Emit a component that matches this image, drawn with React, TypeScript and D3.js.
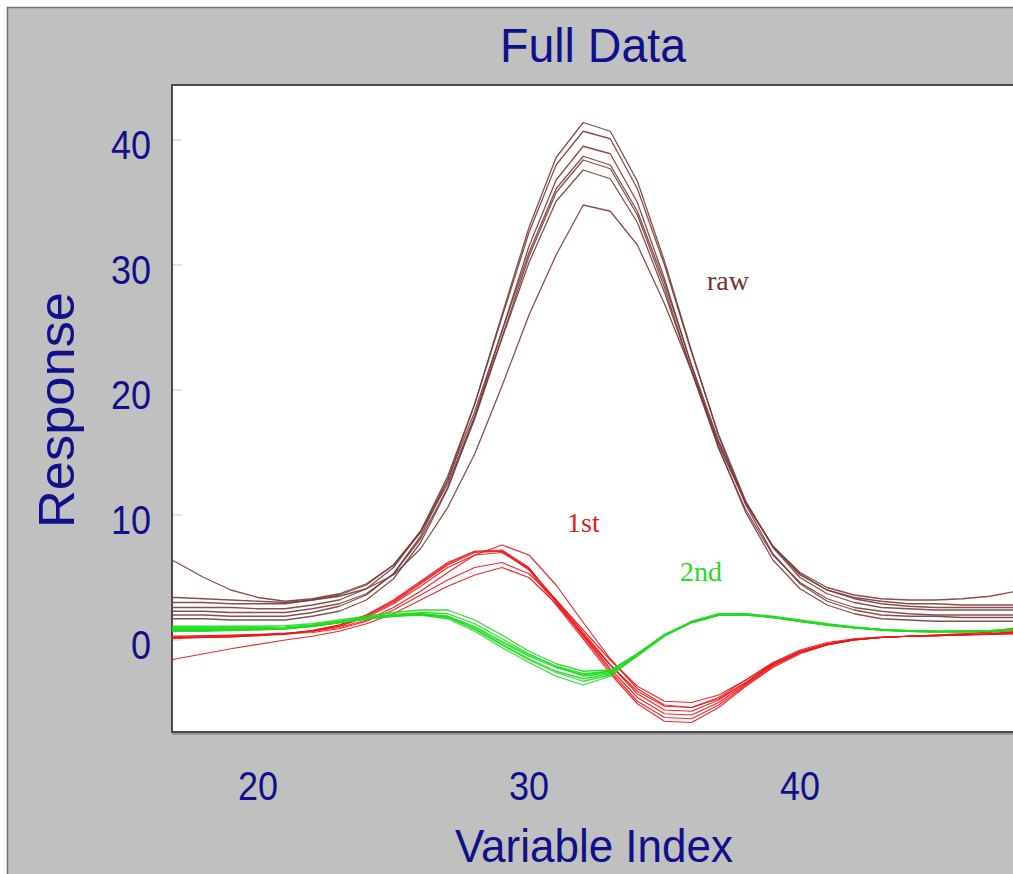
import React from "react";
import * as d3 from "d3";

// Variable indices sampled by every spectrum
const variableIndex = [
  16, 17, 18, 19, 20, 21, 22, 23, 24, 25, 26, 27, 28, 29, 30, 31, 32,
  33, 34, 35, 36, 37, 38, 39, 40, 41, 42, 43, 44, 45, 46, 47, 48,
];

// Raw spectra
const raw1 = [2.0, 2.0, 2.0, 1.9, 1.9, 1.9, 2.2, 2.7, 3.6, 5.3, 8.3, 12.8, 18.9, 26.0, 33.0, 38.6, 41.4, 40.7, 36.7, 30.3, 23.1, 16.3, 10.8, 6.9, 4.5, 3.1, 2.4, 2.0, 1.9, 1.9, 1.8, 1.8, 1.8];
const raw2 = [2.6, 2.6, 2.6, 2.6, 2.5, 2.5, 2.8, 3.2, 4.1, 5.8, 8.7, 13.1, 18.9, 25.8, 32.6, 38.0, 40.7, 40.1, 36.1, 30.0, 23.0, 16.4, 11.1, 7.4, 5.0, 3.7, 3.0, 2.6, 2.5, 2.4, 2.4, 2.4, 2.4];
const raw3 = [1.7, 1.7, 1.7, 1.6, 1.6, 1.6, 1.9, 2.3, 3.2, 4.9, 7.8, 12.1, 17.9, 24.7, 31.5, 36.8, 39.5, 38.9, 35.0, 28.9, 21.9, 15.4, 10.2, 6.4, 4.1, 2.8, 2.1, 1.7, 1.6, 1.5, 1.5, 1.5, 1.5];
const raw4 = [3.0, 3.0, 3.0, 2.9, 2.9, 2.9, 3.2, 3.6, 4.4, 6.0, 8.7, 12.8, 18.3, 24.7, 31.0, 36.1, 38.7, 38.0, 34.3, 28.6, 22.0, 15.9, 11.0, 7.5, 5.3, 4.0, 3.4, 3.1, 2.9, 2.9, 2.8, 2.8, 2.8];
const raw5 = [2.3, 2.3, 2.3, 2.2, 2.2, 2.2, 2.5, 2.9, 3.7, 5.3, 8.1, 12.2, 17.7, 24.2, 30.7, 35.8, 38.4, 37.7, 34.0, 28.2, 21.5, 15.3, 10.4, 6.8, 4.6, 3.3, 2.6, 2.3, 2.1, 2.0, 2.0, 2.0, 2.0];
const raw6 = [7.3, 6.2, 5.0, 4.0, 3.4, 3.1, 3.3, 3.7, 4.5, 6.0, 8.6, 12.5, 17.9, 24.1, 30.2, 35.1, 37.6, 36.9, 33.4, 27.8, 21.5, 15.6, 10.9, 7.5, 5.4, 4.2, 3.6, 3.3, 3.2, 3.2, 3.3, 3.5, 3.9];
const raw7 = [3.4, 3.4, 3.3, 3.2, 3.1, 3.0, 3.2, 3.5, 4.1, 5.2, 7.3, 10.6, 14.9, 20.3, 26.0, 30.8, 34.8, 34.3, 31.6, 26.9, 21.5, 15.8, 11.0, 7.5, 5.2, 4.0, 3.3, 2.9, 2.7, 2.6, 2.6, 2.6, 2.6];

// First-derivative spectra
const first1 = [0.3, 0.3, 0.35, 0.4, 0.45, 0.55, 0.7, 1.0, 1.6, 2.6, 3.9, 5.4, 6.8, 7.6, 6.8, 4.4, 1.4, -1.5, -3.9, -5.2, -5.4, -4.6, -3.2, -1.8, -0.8, -0.2, 0.1, 0.25, 0.3, 0.35, 0.4, 0.5, 0.6];
const first2 = [-2.0, -1.5, -1.1, -0.7, -0.35, 0.0, 0.3, 0.7, 1.3, 2.1, 3.2, 4.3, 5.2, 5.8, 5.0, 2.9, 0.4, -2.0, -4.1, -5.3, -5.4, -4.7, -3.4, -2.0, -1.0, -0.4, 0.0, 0.2, 0.3, 0.35, 0.4, 0.45, 0.5];
const first3 = [0.2, 0.2, 0.25, 0.3, 0.4, 0.5, 0.7, 1.1, 1.8, 2.9, 4.3, 5.8, 6.8, 7.0, 5.7, 3.2, 0.6, -2.0, -4.3, -5.6, -5.7, -4.8, -3.4, -1.9, -0.9, -0.3, 0.05, 0.2, 0.3, 0.35, 0.4, 0.45, 0.55];
const first4 = [0.1, 0.15, 0.2, 0.25, 0.35, 0.45, 0.7, 1.1, 1.9, 3.0, 4.5, 6.0, 7.0, 7.1, 5.7, 3.1, 0.4, -2.3, -4.6, -5.9, -6.0, -5.0, -3.5, -2.0, -1.0, -0.35, 0.0, 0.2, 0.3, 0.35, 0.4, 0.5, 0.6];
const first5 = [0.2, 0.2, 0.2, 0.3, 0.4, 0.5, 0.75, 1.2, 2.0, 3.1, 4.6, 6.1, 7.1, 7.2, 5.8, 3.0, 0.3, -2.5, -4.9, -6.2, -6.3, -5.2, -3.6, -2.1, -1.0, -0.35, 0.0, 0.2, 0.3, 0.4, 0.5, 0.6, 0.8];
const first6 = [0.3, 0.3, 0.3, 0.35, 0.4, 0.5, 0.6, 0.9, 1.5, 2.4, 3.6, 4.8, 5.8, 6.2, 5.3, 3.2, 0.8, -1.6, -3.7, -4.9, -5.0, -4.4, -3.2, -1.9, -0.9, -0.3, 0.05, 0.2, 0.3, 0.35, 0.4, 0.5, 0.7];
const first7 = [0.15, 0.15, 0.2, 0.25, 0.35, 0.5, 0.75, 1.2, 2.0, 3.2, 4.7, 6.2, 7.1, 7.1, 5.6, 2.8, 0.1, -2.7, -5.1, -6.5, -6.6, -5.4, -3.7, -2.2, -1.1, -0.4, 0.0, 0.2, 0.3, 0.4, 0.5, 0.65, 1.0];

// Second-derivative spectra
const second1 = [0.8, 0.8, 0.8, 0.8, 0.85, 0.9, 1.1, 1.4, 1.7, 1.95, 2.1, 1.9, 1.0, -0.2, -1.3, -2.2, -2.8, -2.5, -1.1, 0.4, 1.4, 2.0, 2.0, 1.8, 1.5, 1.2, 1.0, 0.8, 0.7, 0.65, 0.65, 0.7, 0.8];
const second2 = [1.1, 1.1, 1.1, 1.1, 1.1, 1.15, 1.3, 1.6, 1.9, 2.2, 2.4, 2.4, 1.6, 0.4, -0.9, -1.9, -2.5, -2.4, -1.1, 0.4, 1.4, 2.0, 2.1, 1.9, 1.6, 1.3, 1.05, 0.85, 0.75, 0.7, 0.7, 0.75, 0.85];
const second3 = [0.7, 0.7, 0.7, 0.75, 0.8, 0.9, 1.1, 1.4, 1.7, 1.9, 2.0, 1.7, 0.7, -0.6, -1.8, -2.9, -3.6, -2.9, -1.2, 0.4, 1.5, 2.1, 2.1, 1.8, 1.5, 1.2, 0.95, 0.8, 0.7, 0.65, 0.65, 0.7, 0.8];
const second4 = [0.9, 0.9, 0.9, 0.9, 0.9, 0.95, 1.15, 1.45, 1.75, 2.0, 2.1, 1.85, 0.9, -0.35, -1.5, -2.5, -3.1, -2.7, -1.2, 0.35, 1.4, 2.0, 2.05, 1.85, 1.55, 1.25, 1.0, 0.8, 0.7, 0.65, 0.7, 0.75, 0.85];
const second5 = [0.75, 0.75, 0.75, 0.8, 0.85, 0.9, 1.1, 1.4, 1.7, 1.95, 2.05, 1.8, 0.85, -0.4, -1.6, -2.6, -3.3, -2.8, -1.3, 0.3, 1.4, 2.0, 2.0, 1.8, 1.5, 1.2, 1.0, 0.8, 0.7, 0.65, 0.65, 0.7, 0.8];
const second6 = [0.85, 0.85, 0.85, 0.85, 0.9, 0.95, 1.1, 1.4, 1.7, 1.9, 2.05, 1.9, 1.1, -0.1, -1.2, -2.1, -2.7, -2.5, -1.1, 0.45, 1.45, 2.05, 2.05, 1.85, 1.5, 1.2, 1.0, 0.85, 0.75, 0.7, 0.7, 0.75, 0.9];
const second7 = [1.0, 1.0, 1.0, 1.0, 1.0, 1.05, 1.2, 1.5, 1.8, 2.05, 2.2, 2.1, 1.3, 0.1, -1.1, -2.1, -2.9, -2.6, -1.2, 0.35, 1.4, 2.0, 2.05, 1.85, 1.55, 1.25, 1.0, 0.85, 0.75, 0.7, 0.7, 0.75, 0.85];

const rawSeries = [raw1, raw2, raw3, raw4, raw5, raw6, raw7];
const firstSeries = [first1, first2, first3, first4, first5, first6, first7];
const secondSeries = [second1, second2, second3, second4, second5, second6, second7];

const xTicks = [20, 30, 40];
const yTicks = [0, 10, 20, 30, 40];

const W = 1013;
const H = 874;
const plot = { left: 172, top: 85, right: 1030, bottom: 732 };

const x = d3.scaleLinear().domain([20, 40]).range([258, 800]);
const y = d3.scaleLinear().domain([0, 40]).range([640, 140]);

const line = d3
  .line<number>()
  .x((_, i) => x(variableIndex[i]))
  .y((d) => y(d));

const NAVY = "#10108a";
const SANS = "'Liberation Sans', Arial, sans-serif";
const SERIF = "'Liberation Serif', 'Times New Roman', serif";

// width of a tick label, slightly condensed
const tickWidth = (t: number) => String(t).length * 20;

export default function App() {
  return (
    <svg
      width={W}
      height={H}
      viewBox={`0 0 ${W} ${H}`}
      style={{ position: "absolute", left: 0, top: 0, background: "#fff" }}
    >
      <defs>
        <clipPath id="plot-clip">
          <rect
            x={plot.left}
            y={plot.top}
            width={plot.right - plot.left}
            height={plot.bottom - plot.top}
          />
        </clipPath>
      </defs>

      {/* outer panel */}
      <rect x={7.5} y={7.5} width={W} height={H} fill="#c0c0c0" stroke="#6e6e6e" strokeWidth={1.5} />

      {/* plot area */}
      <rect
        x={plot.left}
        y={plot.top}
        width={plot.right - plot.left}
        height={plot.bottom - plot.top}
        fill="#ffffff"
      />
      <path
        d={`M${plot.right},${plot.top} H${plot.left} V${plot.bottom} H${plot.right}`}
        fill="none"
        stroke="#4a4a4a"
        strokeWidth={2}
      />
      <line x1={plot.left} x2={plot.right} y1={plot.bottom + 2} y2={plot.bottom + 2} stroke="#8a8a8a" strokeWidth={1.5} />

      {/* faint y tick marks */}
      {yTicks.map((t) => (
        <line key={`yt${t}`} x1={plot.left + 1} x2={plot.left + 10} y1={y(t)} y2={y(t)} stroke="#d8d8d8" strokeWidth={1.5} />
      ))}

      {/* title */}
      <text x={593} y={62} textAnchor="middle" fill={NAVY} fontFamily={SANS} fontSize={49} textLength={186} lengthAdjust="spacingAndGlyphs">
        Full Data
      </text>

      {/* y tick labels */}
      {yTicks.map((t) => (
        <text
          key={`yl${t}`}
          x={151}
          y={y(t) + 19}
          textAnchor="end"
          fill={NAVY}
          fontFamily={SANS}
          fontSize={41}
          textLength={tickWidth(t)}
          lengthAdjust="spacingAndGlyphs"
        >
          {t}
        </text>
      ))}

      {/* x tick labels */}
      {xTicks.map((t) => (
        <text
          key={`xl${t}`}
          x={x(t)}
          y={800}
          textAnchor="middle"
          fill={NAVY}
          fontFamily={SANS}
          fontSize={41}
          textLength={tickWidth(t)}
          lengthAdjust="spacingAndGlyphs"
        >
          {t}
        </text>
      ))}

      {/* axis titles */}
      <text x={594} y={862} textAnchor="middle" fill={NAVY} fontFamily={SANS} fontSize={46} textLength={278} lengthAdjust="spacingAndGlyphs">
        Variable Index
      </text>
      <text
        transform="translate(74,410) rotate(-90)"
        textAnchor="middle"
        fill={NAVY}
        fontFamily={SANS}
        fontSize={50}
        textLength={236}
        lengthAdjust="spacingAndGlyphs"
      >
        Response
      </text>

      {/* spectra */}
      <g clipPath="url(#plot-clip)" fill="none" strokeLinejoin="round">
        {rawSeries.map((s, i) => (
          <path key={`r${i}`} d={line(s) ?? ""} stroke="#7a3c3c" strokeWidth={1.3} strokeOpacity={0.9} />
        ))}
        {firstSeries.map((s, i) => (
          <path key={`f${i}`} d={line(s) ?? ""} stroke="#ee1515" strokeWidth={1.2} strokeOpacity={0.9} />
        ))}
        {secondSeries.map((s, i) => (
          <path key={`s${i}`} d={line(s) ?? ""} stroke="#1edc1e" strokeWidth={1.3} strokeOpacity={0.9} />
        ))}
      </g>

      {/* series labels */}
      <text x={707} y={290} fill="#7a3030" fontFamily={SERIF} fontSize={28}>raw</text>
      <text x={567} y={532} fill="#e02020" fontFamily={SERIF} fontSize={28}>1st</text>
      <text x={680} y={581} fill="#22dd22" fontFamily={SERIF} fontSize={28}>2nd</text>
    </svg>
  );
}
